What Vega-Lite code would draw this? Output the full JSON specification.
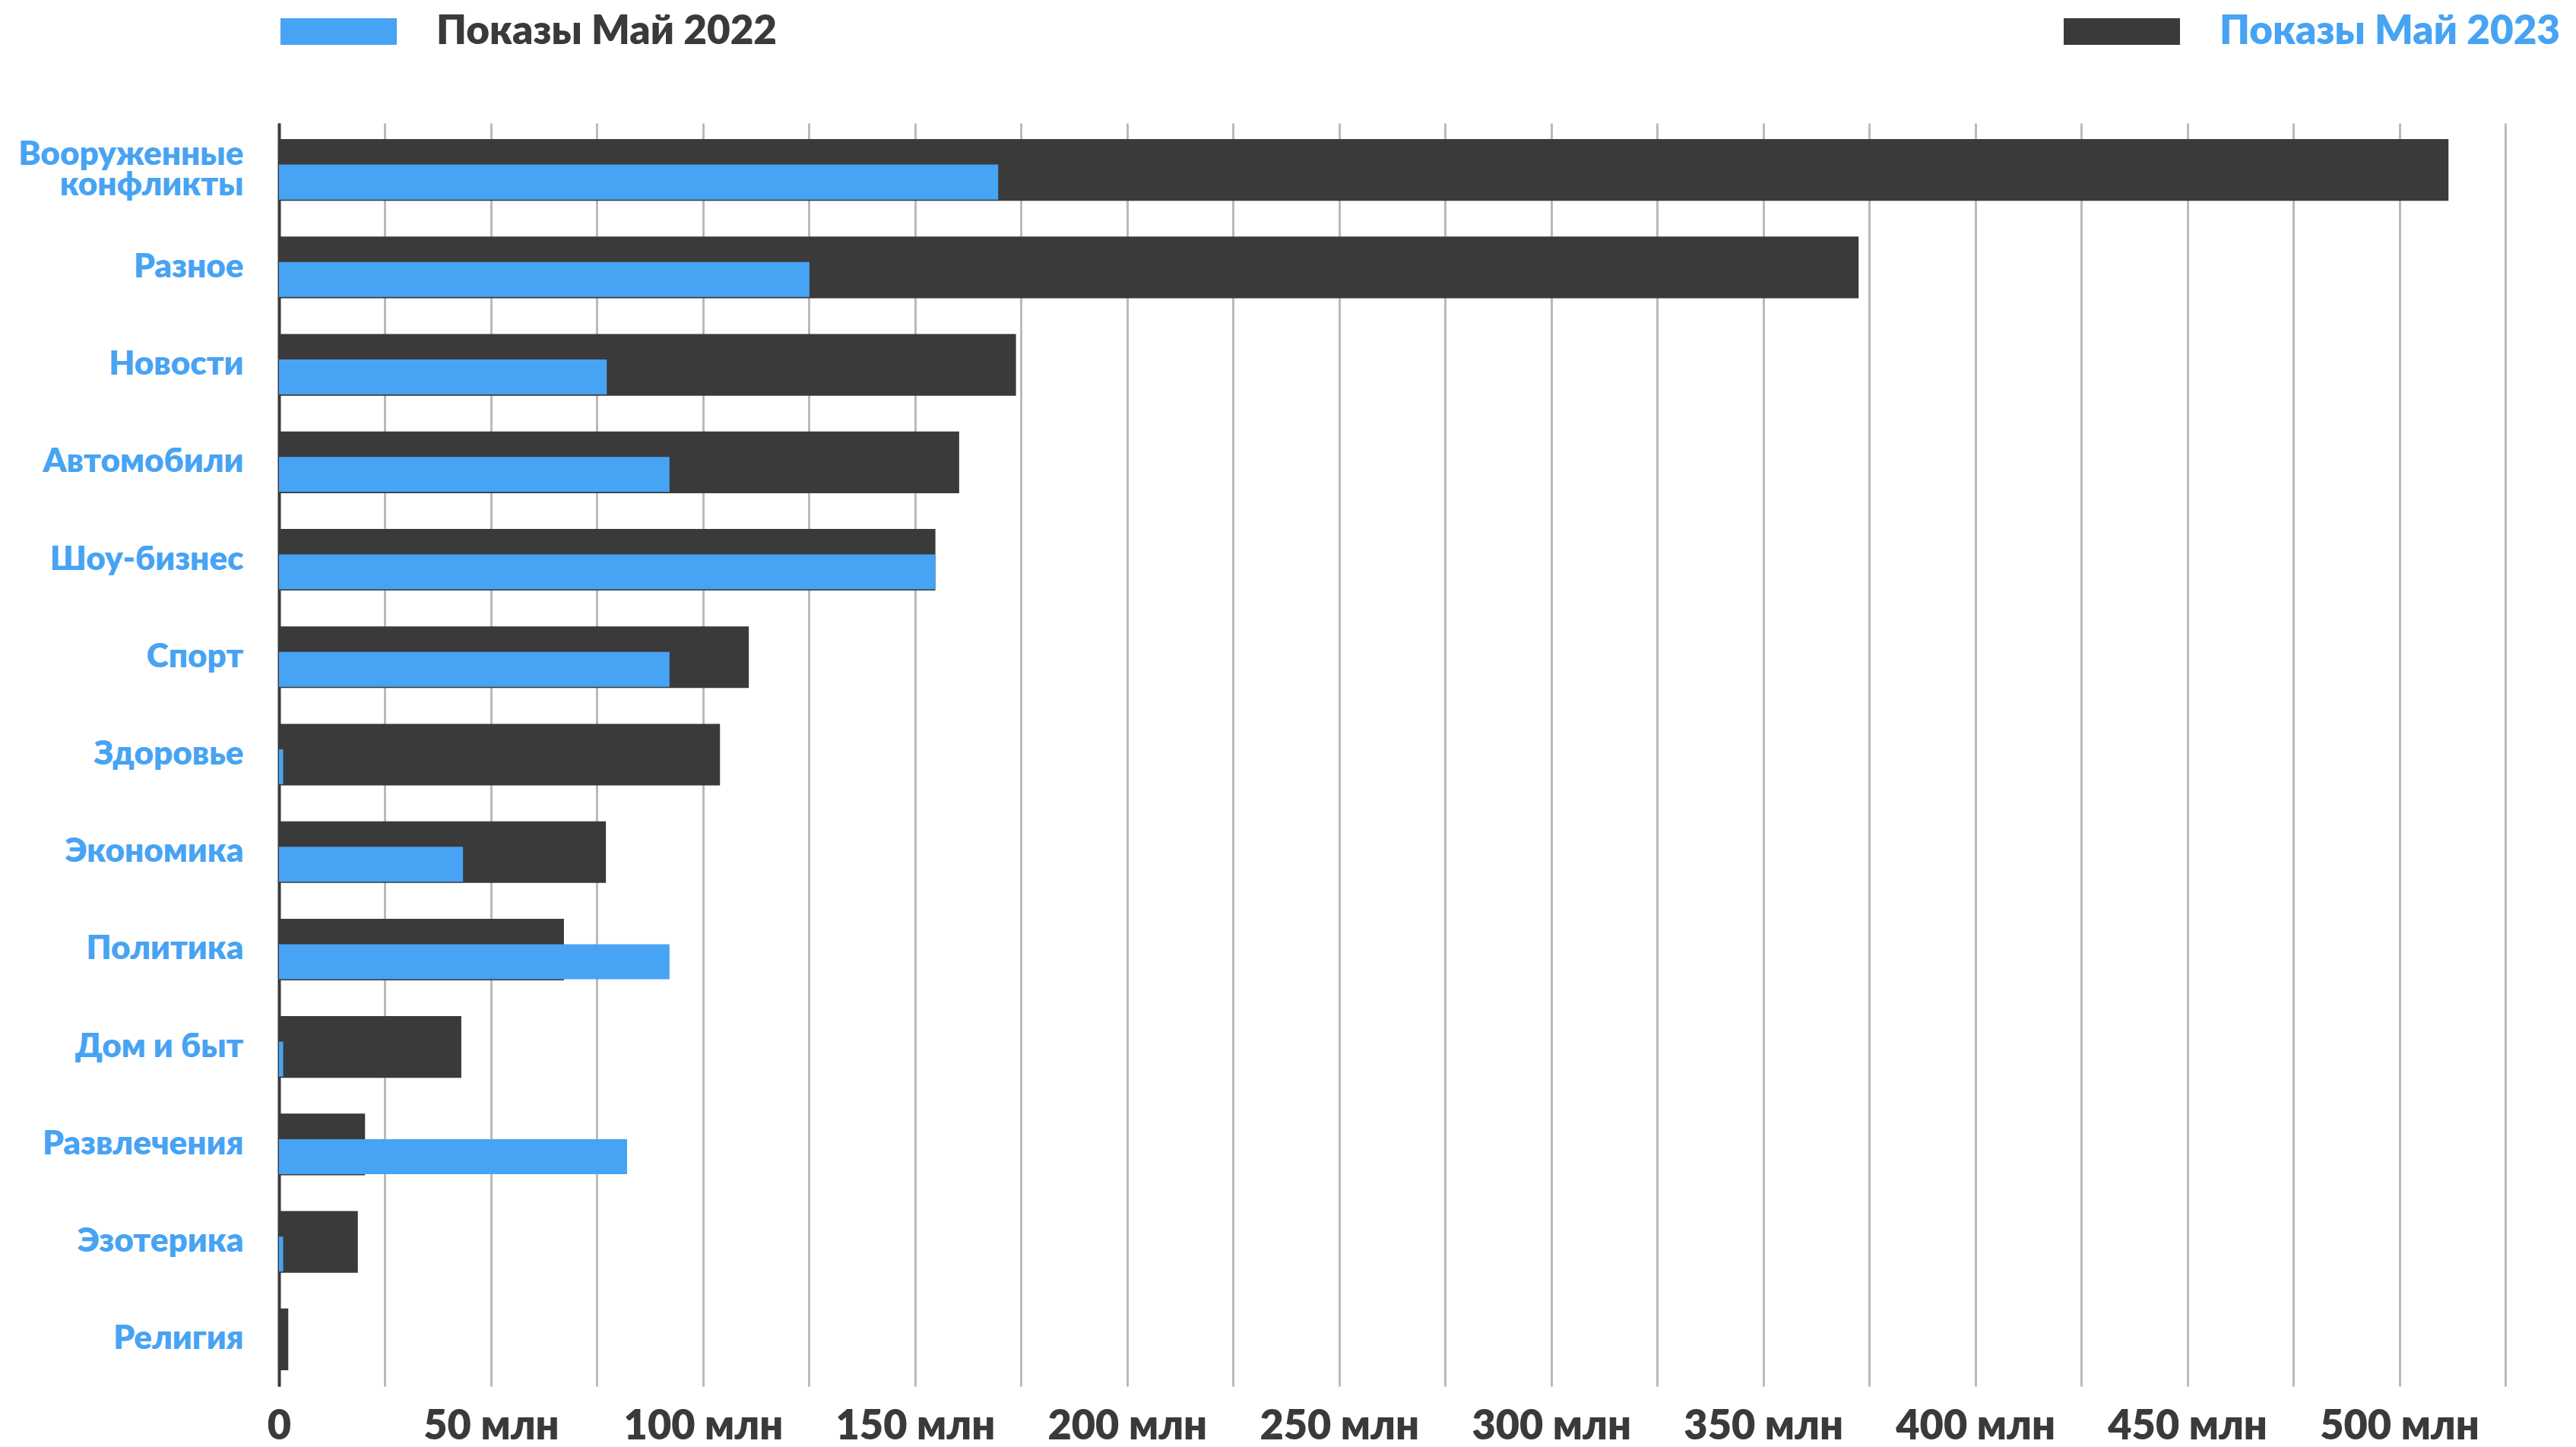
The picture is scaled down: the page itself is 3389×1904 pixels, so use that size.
{
  "$schema": "https://vega.github.io/schema/vega-lite/v6.json",
  "width": 2929,
  "height": 1662,
  "autosize": {"type": "none"},
  "padding": {"left": 367, "top": 162, "right": 93, "bottom": 80},
  "background": "white",
  "config": {"view": {"stroke": null}, "font": "Lato"},
  "data": {
    "values": [
      {"category": "Вооруженные конфликты", "series": "Показы Май 2023", "value": 511.6},
      {"category": "Разное", "series": "Показы Май 2023", "value": 372.5},
      {"category": "Новости", "series": "Показы Май 2023", "value": 173.8},
      {"category": "Автомобили", "series": "Показы Май 2023", "value": 160.4},
      {"category": "Шоу-бизнес", "series": "Показы Май 2023", "value": 154.8},
      {"category": "Спорт", "series": "Показы Май 2023", "value": 110.8},
      {"category": "Здоровье", "series": "Показы Май 2023", "value": 104.0},
      {"category": "Экономика", "series": "Показы Май 2023", "value": 77.1},
      {"category": "Политика", "series": "Показы Май 2023", "value": 67.2},
      {"category": "Дом и быт", "series": "Показы Май 2023", "value": 43.0},
      {"category": "Развлечения", "series": "Показы Май 2023", "value": 20.3},
      {"category": "Эзотерика", "series": "Показы Май 2023", "value": 18.6},
      {"category": "Религия", "series": "Показы Май 2023", "value": 2.2},
      {"category": "Вооруженные конфликты", "series": "Показы Май 2022", "value": 169.6},
      {"category": "Разное", "series": "Показы Май 2022", "value": 125.1},
      {"category": "Новости", "series": "Показы Май 2022", "value": 77.3},
      {"category": "Автомобили", "series": "Показы Май 2022", "value": 92.1},
      {"category": "Шоу-бизнес", "series": "Показы Май 2022", "value": 154.8},
      {"category": "Спорт", "series": "Показы Май 2022", "value": 92.1},
      {"category": "Здоровье", "series": "Показы Май 2022", "value": 1.0},
      {"category": "Экономика", "series": "Показы Май 2022", "value": 43.4},
      {"category": "Политика", "series": "Показы Май 2022", "value": 92.1},
      {"category": "Дом и быт", "series": "Показы Май 2022", "value": 1.0},
      {"category": "Развлечения", "series": "Показы Май 2022", "value": 82.1},
      {"category": "Эзотерика", "series": "Показы Май 2022", "value": 1.0},
      {"category": "Религия", "series": "Показы Май 2022", "value": 0}
    ]
  },
  "encoding": {
    "y": {
      "field": "category",
      "type": "nominal",
      "sort": ["Вооруженные конфликты", "Разное", "Новости", "Автомобили", "Шоу-бизнес", "Спорт", "Здоровье", "Экономика", "Политика", "Дом и быт", "Развлечения", "Эзотерика", "Религия"],
      "scale": {"paddingInner": 0.367, "paddingOuter": 0.164},
      "axis": {
        "title": null,
        "domain": true,
        "domainColor": "#3a3a3a",
        "domainWidth": 4,
        "ticks": false,
        "grid": false,
        "labelFont": "Lato",
        "labelFontSize": 44,
        "labelFontWeight": 800,
        "labelColor": "#47a3f3",
        "labelPadding": 47,
        "labelLimit": 600,
        "labelLineHeight": 40,
        "labelOffset": {"condition": {"test": "datum.value == 'Вооруженные конфликты'", "value": -20}, "value": 0},
        "labelExpr": "datum.value == 'Вооруженные конфликты' ? ['Вооруженные', 'конфликты'] : datum.value"
      }
    },
    "x": {
      "field": "value",
      "type": "quantitative",
      "scale": {"domain": [0, 525], "nice": false, "zero": true},
      "axis": {
        "title": null,
        "orient": "bottom",
        "domain": false,
        "ticks": false,
        "grid": true,
        "gridColor": {"condition": {"test": "datum.value === 0", "value": "#3a3a3a"}, "value": "#bababa"},
        "gridWidth": 3,
        "values": [0, 25, 50, 75, 100, 125, 150, 175, 200, 225, 250, 275, 300, 325, 350, 375, 400, 425, 450, 475, 500, 525],
        "labelExpr": "datum.value % 50 === 0 ? (datum.value === 0 ? '0' : datum.value + ' млн') : ''",
        "labelFlush": false,
        "labelOverlap": false,
        "labelLimit": 1000,
        "labelFont": "Lato",
        "labelFontSize": 54,
        "labelFontWeight": 800,
        "labelColor": "#3a3a3a",
        "labelPadding": 26
      }
    }
  },
  "layer": [
    {
      "transform": [{"filter": "datum.series == 'Показы Май 2023'"}],
      "mark": {"type": "bar"},
      "encoding": {
        "fill": {
          "field": "series",
          "type": "nominal",
          "scale": {"range": ["#3a3a3a"]},
          "legend": {
            "title": null,
            "orient": "none",
            "legendX": 2348,
            "legendY": -197,
            "padding": 0,
            "symbolType": "M-1,-0.229H1V0.229H-1Z",
            "symbolSize": 23409,
            "symbolStrokeWidth": 0,
            "labelFont": "Lato",
            "labelFontSize": 53,
            "labelFontWeight": 800,
            "labelColor": "#47a3f3",
            "labelOffset": 52,
            "labelLimit": 800
          }
        }
      }
    },
    {
      "transform": [{"filter": "datum.series == 'Показы Май 2022'"}],
      "mark": {"type": "bar", "height": {"band": 0.567}, "yOffset": 16},
      "encoding": {
        "color": {
          "field": "series",
          "type": "nominal",
          "scale": {"range": ["#47a3f3"]},
          "legend": {
            "title": null,
            "orient": "none",
            "legendX": 2,
            "legendY": -197,
            "padding": 0,
            "symbolType": "M-1,-0.229H1V0.229H-1Z",
            "symbolSize": 23409,
            "symbolStrokeWidth": 0,
            "labelFont": "Lato",
            "labelFontSize": 53,
            "labelFontWeight": 800,
            "labelColor": "#3a3a3a",
            "labelOffset": 52,
            "labelLimit": 800
          }
        }
      }
    }
  ]
}
